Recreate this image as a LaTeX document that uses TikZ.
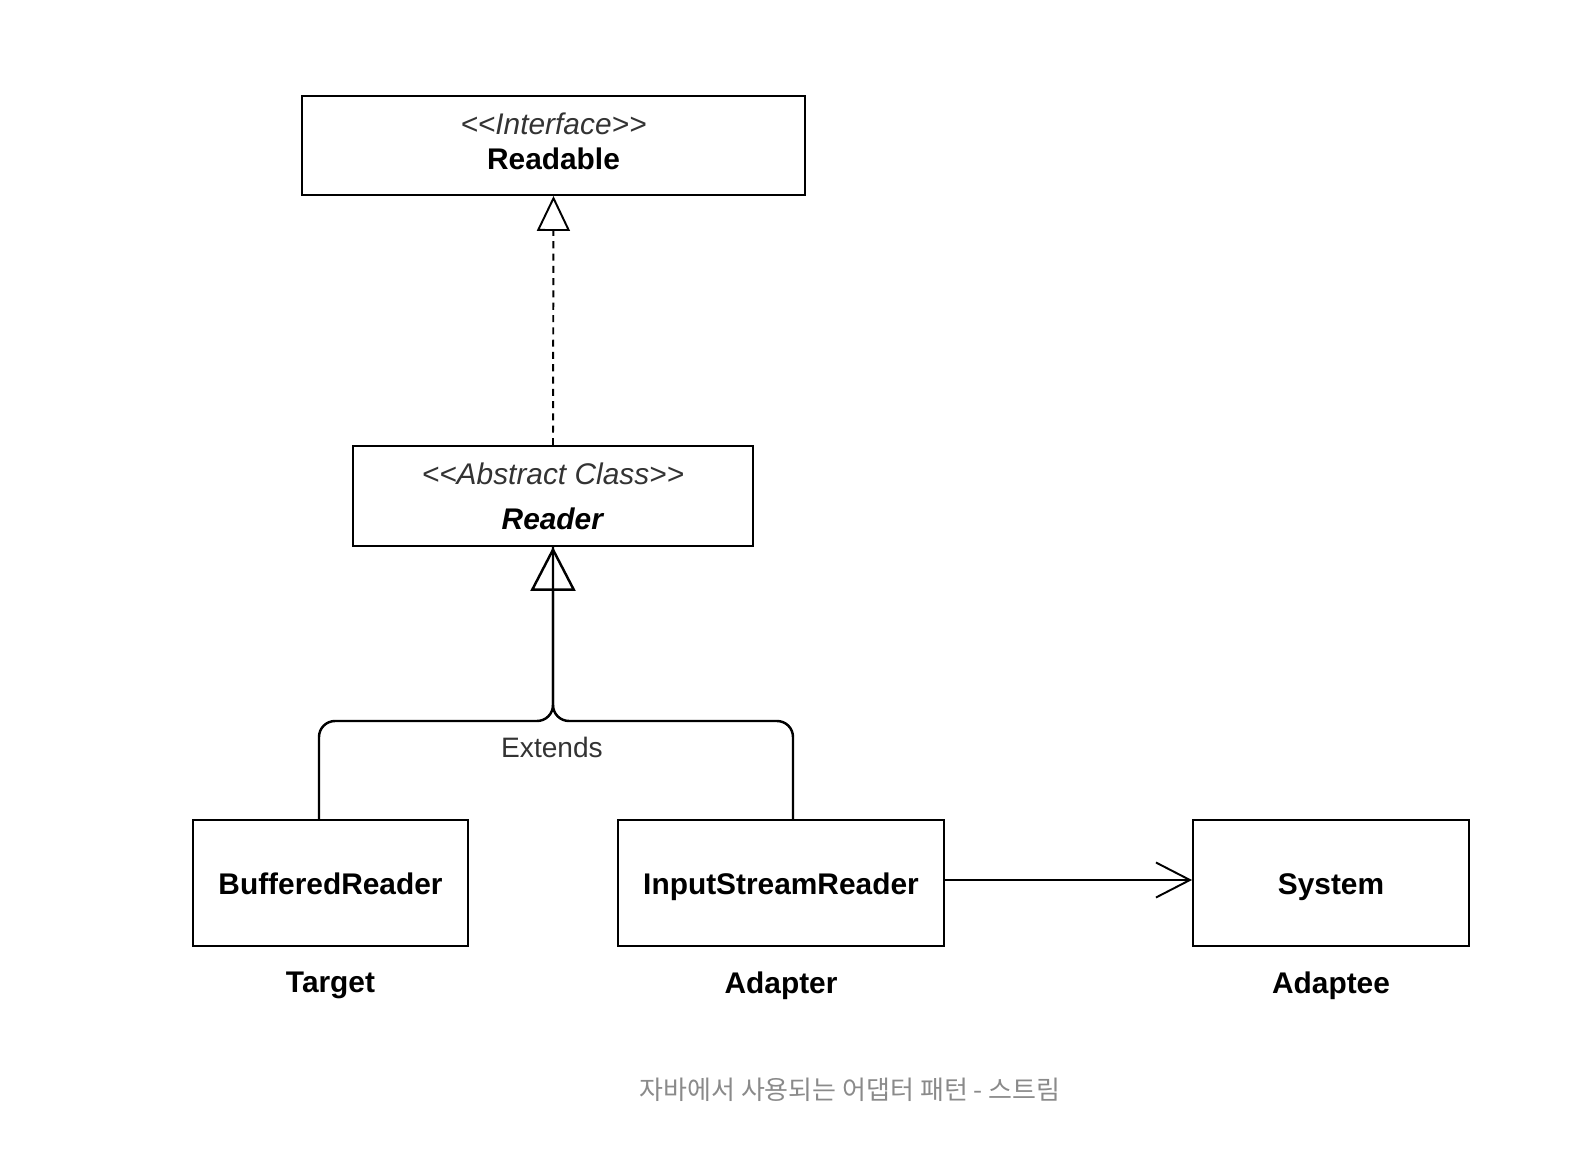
\documentclass[tikz,border=0pt]{standalone}
\usepackage{fontspec}
\newfontfamily\uifont{Liberation Sans}
\newfontfamily\krfont{Noto Sans CJK KR}
\usetikzlibrary{arrows.meta,positioning}
\usepackage{xcolor}
\definecolor{stereo}{HTML}{333333}
\definecolor{capgray}{HTML}{8A8A8A}

\begin{document}
\begin{tikzpicture}[x=0.02cm, y=-0.02cm, font=\uifont\fontsize{17}{20}\selectfont]
      \tikzstyle{cls} = [rectangle, draw, line width=1.1pt, align=center, minimum height=2.52cm]
      \tikzstyle{single} = [text height=13.6pt, text depth=0pt]
      \tikzstyle{role} = [font=\uifont\fontsize{17}{20}\selectfont\bfseries]
      \useasboundingbox (0,0) rectangle (1596,1166);

      \node[cls, minimum width=10.06cm, minimum height=1.98cm, text depth=4.5pt] (readable) at (553.5,145.5) {{\color{stereo}\itshape <<Interface>>}\\\textbf{Readable}};
      \node[cls, minimum width=8cm, minimum height=2cm] (reader) at (553,496) {{\color{stereo}\itshape <<Abstract Class>>}\\[5.5pt]\textbf{\itshape Reader}};

      \node[cls, single, minimum width=5.5cm] (br) at (330.5,883) {\textbf{BufferedReader}};
      \node[cls, single, minimum width=6.52cm] (isr) at (781,883) {\textbf{InputStreamReader}};
      \node[cls, single, minimum width=5.52cm] (sys) at (1331,883) {\textbf{System}};

      \draw[-{Triangle[open, length=0.7cm, width=0.66cm]}, line width=1.1pt, dash pattern=on 4pt off 3pt] (reader.north) -- (readable.south);

      % extends fork
      \coordinate (fork) at (553,721);
      \draw[line width=1.4pt, rounded corners=0.32cm, -{Triangle[open, length=0.88cm, width=0.9cm]}] ([xshift=-0.23cm]br.north) |- (fork) -- (reader.south);
      \draw[line width=1.4pt, rounded corners=0.32cm] ([xshift=0.24cm]isr.north) |- (fork) -- (reader.south);
      \node[text=stereo, font=\uifont\fontsize{16}{19}\selectfont] (ext) at (552,747) {Extends};

      \draw[-{Straight Barb[length=0.68cm, width=0.7cm]}, line width=1.1pt] ([yshift=0.06cm]isr.east) -- ([yshift=0.06cm]sys.west);

      \node[role, below=0.38cm of br] (target) {Target};
      \node[role, below=0.38cm of isr] (adapter) {Adapter};
      \node[role, below=0.38cm of sys] (adaptee) {Adaptee};

      \node[text=capgray, font=\krfont\fontsize{14.8}{17}\selectfont] (cap) at (850,1090) {자바에서 사용되는 어댑터 패턴 - 스트림};
\end{tikzpicture}
\end{document}
